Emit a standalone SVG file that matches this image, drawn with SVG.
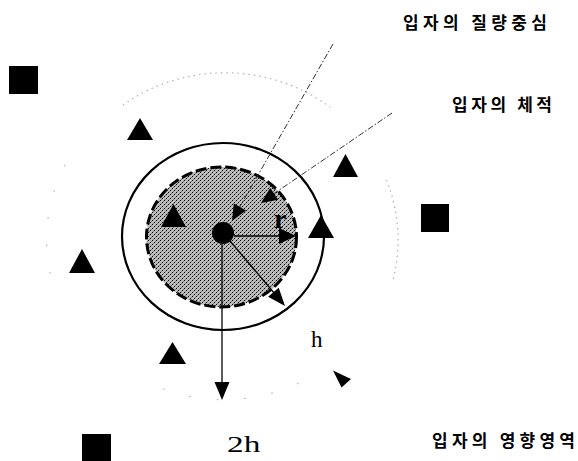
<svg xmlns="http://www.w3.org/2000/svg" width="578" height="461" viewBox="0 0 578 461">
<style>
.ko{font-family:"Noto Sans CJK KR","Noto Sans",sans-serif;font-size:17px;font-weight:bold;fill:#000}
.sf{font-family:"Liberation Serif","Times New Roman",serif;fill:#000}
.tri,.sq,.ah{fill:#000}
.faint{fill:none;stroke:#b0b0b0;stroke-width:1.2;stroke-dasharray:1.5 4}
.sparse{fill:none;stroke:#b0b0b0;stroke-width:1.2;stroke-dasharray:1.5 26}
.lead{fill:none;stroke:#333;stroke-width:1;stroke-dasharray:6 2 1.5 2}
.ln{fill:none;stroke:#000;stroke-width:1.3}
</style>
<defs>
<pattern id="dither" width="4" height="4" patternUnits="userSpaceOnUse">
<rect width="4" height="4" fill="#bdbdbd"/>
<rect x="0" y="0" width="1" height="1" fill="#000"/>
<rect x="2" y="2" width="1" height="1" fill="#000"/>
<rect x="1" y="3" width="1" height="1" fill="#777"/>
<rect x="3" y="1" width="1" height="1" fill="#777"/>
</pattern>
</defs>
<rect width="578" height="461" fill="#fff"/>

<g id="influence-region">
<path class="faint" d="M123,105 A173,167 0 0 1 330,107"/>
<path class="faint" d="M386.5,180 A173,167 0 0 1 393,280"/>
<path class="sparse" d="M65,165 A173,167 0 0 0 53,285"/>
<path class="sparse" d="M163,389 A173,167 0 0 0 309,378"/>
</g>

<g id="outer-circle">
<ellipse cx="223" cy="236.5" rx="101" ry="93.5" fill="none" stroke="#000" stroke-width="2.2"/>
</g>

<g id="particle-volume">
<ellipse cx="221.5" cy="237" rx="75" ry="70" fill="url(#dither)" stroke="#000" stroke-width="3" stroke-dasharray="11 4"/>
</g>

<g id="center-of-mass">
<circle cx="223" cy="233" r="11" fill="#000"/>
</g>

<g id="particles">
<polygon class="tri" points="140,118 127,140 153,140"/>
<polygon class="tri" points="345.5,154 333,177 358,177"/>
<polygon class="tri" points="173.5,204 161,227 186,227"/>
<polygon class="tri" points="321,215 308,238 334,238"/>
<polygon class="tri" points="82,249 69,273 95,273"/>
<polygon class="tri" points="172.5,342 159,364 186,364"/>
<rect class="sq" x="9" y="66" width="29" height="28"/>
<rect class="sq" x="421" y="204" width="28" height="28"/>
<rect class="sq" x="82" y="434" width="29" height="27"/>
</g>

<g id="connectors">
<line class="lead" x1="333" y1="44" x2="238" y2="210"/>
<polygon class="ah" points="232,221 246,210.6 233.8,203.6"/>
<line class="lead" x1="392" y1="113" x2="272" y2="195"/>
<polygon class="ah" points="261,203 278.2,199.7 270.2,188.1"/>
<line class="ln" x1="234" y1="236" x2="281" y2="236"/>
<polygon class="ah" points="296,236 279,228 279,244"/>
<line class="ln" x1="230" y1="241" x2="275" y2="294"/>
<polygon class="ah" points="285,306 268.1,296.8 278.7,287.8"/>
<line class="ln" x1="222" y1="244" x2="222" y2="384"/>
<polygon class="ah" points="222,400 214.5,382 229.5,382"/>
<polygon class="ah" points="333,370.5 351,379 341.5,387.5"/>
</g>

<g id="labels">
<text class="ko" x="403" y="29" textLength="144" lengthAdjust="spacing">입자의 질량중심</text>
<text class="ko" x="452" y="111" textLength="100" lengthAdjust="spacing">입자의 체적</text>
<text class="ko" x="432" y="447" textLength="143" lengthAdjust="spacing">입자의 영향영역</text>
<text class="sf" x="274" y="228" style="font-size:28px;font-weight:bold">r</text>
<text class="sf" x="311" y="347" style="font-size:23px">h</text>
<text class="sf" transform="translate(227,452) scale(1.45,1)" style="font-size:23px">2h</text>
</g>
</svg>
